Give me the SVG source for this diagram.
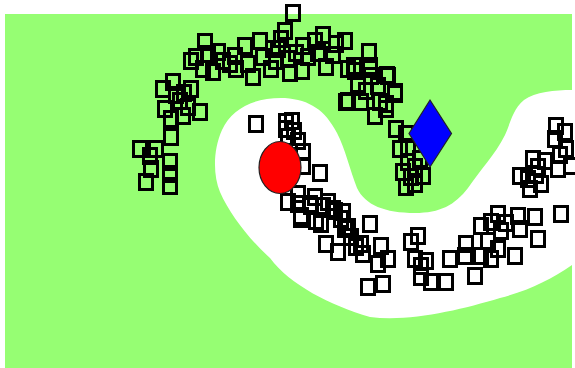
<svg xmlns="http://www.w3.org/2000/svg" width="575" height="368" viewBox="0 0 575 368">
<style>
.sq{fill:none;stroke:#000;stroke-width:3}
</style>
<rect x="0" y="0" width="575" height="368" fill="#ffffff"/>
<rect id="field" x="5" y="14" width="567" height="354" fill="#96fe73"/>
<path id="band" fill="#ffffff" d="M 572,90 C 555,90 535,92 524,100 C 512,110 510,125 505,135 C 495,155 480,170 468,188 C 455,205 440,213 415,213 C 385,213 365,205 357,188 C 350,170 345,148 337,133 C 325,110 310,100 285,98 C 255,97 232,108 222,130 C 213,150 213,175 220,192 C 230,215 250,240 270,258 C 290,285 330,305 370,317 C 410,322 460,310 500,298 C 530,290 550,280 572,265 Z"/>
<g id="squares" transform="translate(1.5,1.5)">
<rect class="sq" x="285" y="4" width="13" height="15"/>
<rect class="sq" x="277" y="22" width="13" height="15"/>
<rect class="sq" x="273" y="30" width="13" height="15"/>
<rect class="sq" x="270" y="40" width="13" height="15"/>
<rect class="sq" x="295" y="37" width="13" height="15"/>
<rect class="sq" x="307" y="32" width="13" height="15"/>
<rect class="sq" x="315" y="26" width="13" height="15"/>
<rect class="sq" x="328" y="35" width="13" height="15"/>
<rect class="sq" x="337" y="32" width="13" height="15"/>
<rect class="sq" x="318" y="58" width="13" height="15"/>
<rect class="sq" x="294" y="62" width="13" height="15"/>
<rect class="sq" x="361" y="43" width="13" height="15"/>
<rect class="sq" x="362" y="57" width="13" height="15"/>
<rect class="sq" x="346" y="57" width="13" height="15"/>
<rect class="sq" x="379" y="66" width="13" height="15"/>
<rect class="sq" x="350" y="75" width="13" height="15"/>
<rect class="sq" x="358" y="82" width="13" height="15"/>
<rect class="sq" x="387" y="85" width="13" height="15"/>
<rect class="sq" x="370" y="77" width="13" height="15"/>
<rect class="sq" x="378" y="95" width="13" height="15"/>
<rect class="sq" x="338" y="93" width="13" height="15"/>
<rect class="sq" x="197" y="33" width="13" height="15"/>
<rect class="sq" x="183" y="52" width="13" height="15"/>
<rect class="sq" x="188" y="48" width="13" height="15"/>
<rect class="sq" x="205" y="63" width="13" height="15"/>
<rect class="sq" x="210" y="43" width="13" height="15"/>
<rect class="sq" x="227" y="47" width="13" height="15"/>
<rect class="sq" x="237" y="37" width="13" height="15"/>
<rect class="sq" x="252" y="32" width="13" height="15"/>
<rect class="sq" x="245" y="68" width="13" height="15"/>
<rect class="sq" x="263" y="60" width="13" height="15"/>
<rect class="sq" x="215" y="52" width="13" height="15"/>
<rect class="sq" x="228" y="60" width="13" height="15"/>
<rect class="sq" x="255" y="48" width="13" height="15"/>
<rect class="sq" x="265" y="40" width="13" height="15"/>
<rect class="sq" x="280" y="50" width="13" height="15"/>
<rect class="sq" x="282" y="64" width="13" height="15"/>
<rect class="sq" x="300" y="48" width="13" height="15"/>
<rect class="sq" x="240" y="55" width="13" height="15"/>
<rect class="sq" x="222" y="55" width="13" height="15"/>
<rect class="sq" x="195" y="60" width="13" height="15"/>
<rect class="sq" x="200" y="45" width="13" height="15"/>
<rect class="sq" x="288" y="44" width="13" height="15"/>
<rect class="sq" x="310" y="44" width="13" height="15"/>
<rect class="sq" x="325" y="46" width="13" height="15"/>
<rect class="sq" x="268" y="52" width="13" height="15"/>
<rect class="sq" x="155" y="80" width="13" height="15"/>
<rect class="sq" x="165" y="73" width="13" height="15"/>
<rect class="sq" x="183" y="80" width="13" height="15"/>
<rect class="sq" x="172" y="92" width="13" height="15"/>
<rect class="sq" x="176" y="84" width="13" height="15"/>
<rect class="sq" x="168" y="86" width="13" height="15"/>
<rect class="sq" x="157" y="100" width="13" height="15"/>
<rect class="sq" x="163" y="110" width="13" height="15"/>
<rect class="sq" x="175" y="107" width="13" height="15"/>
<rect class="sq" x="180" y="98" width="13" height="15"/>
<rect class="sq" x="192" y="103" width="13" height="15"/>
<rect class="sq" x="163" y="128" width="13" height="15"/>
<rect class="sq" x="132" y="140" width="13" height="15"/>
<rect class="sq" x="142" y="147" width="13" height="15"/>
<rect class="sq" x="148" y="140" width="13" height="15"/>
<rect class="sq" x="162" y="153" width="13" height="15"/>
<rect class="sq" x="143" y="160" width="13" height="15"/>
<rect class="sq" x="138" y="173" width="13" height="15"/>
<rect class="sq" x="162" y="177" width="13" height="15"/>
<rect class="sq" x="162" y="165" width="13" height="15"/>
<rect class="sq" x="248" y="115" width="13" height="15"/>
<rect class="sq" x="278" y="113" width="13" height="15"/>
<rect class="sq" x="284" y="112" width="13" height="15"/>
<rect class="sq" x="278" y="120" width="13" height="15"/>
<rect class="sq" x="286" y="122" width="13" height="15"/>
<rect class="sq" x="280" y="128" width="13" height="15"/>
<rect class="sq" x="290" y="132" width="13" height="15"/>
<rect class="sq" x="295" y="143" width="13" height="15"/>
<rect class="sq" x="295" y="157" width="13" height="15"/>
<rect class="sq" x="312" y="164" width="13" height="15"/>
<rect class="sq" x="280" y="193" width="13" height="15"/>
<rect class="sq" x="290" y="185" width="13" height="15"/>
<rect class="sq" x="302" y="195" width="13" height="15"/>
<rect class="sq" x="307" y="188" width="13" height="15"/>
<rect class="sq" x="320" y="193" width="13" height="15"/>
<rect class="sq" x="325" y="200" width="13" height="15"/>
<rect class="sq" x="293" y="210" width="13" height="15"/>
<rect class="sq" x="308" y="212" width="13" height="15"/>
<rect class="sq" x="335" y="203" width="13" height="15"/>
<rect class="sq" x="340" y="218" width="13" height="15"/>
<rect class="sq" x="340" y="60" width="13" height="15"/>
<rect class="sq" x="347" y="62" width="13" height="15"/>
<rect class="sq" x="362" y="60" width="13" height="15"/>
<rect class="sq" x="363" y="67" width="13" height="15"/>
<rect class="sq" x="380" y="67" width="13" height="15"/>
<rect class="sq" x="387" y="83" width="13" height="15"/>
<rect class="sq" x="340" y="92" width="13" height="15"/>
<rect class="sq" x="353" y="93" width="13" height="15"/>
<rect class="sq" x="367" y="107" width="13" height="15"/>
<rect class="sq" x="372" y="93" width="13" height="15"/>
<rect class="sq" x="378" y="100" width="13" height="15"/>
<rect class="sq" x="388" y="120" width="13" height="15"/>
<rect class="sq" x="398" y="125" width="13" height="15"/>
<rect class="sq" x="392" y="140" width="13" height="15"/>
<rect class="sq" x="400" y="138" width="13" height="15"/>
<rect class="sq" x="395" y="163" width="13" height="15"/>
<rect class="sq" x="400" y="153" width="13" height="15"/>
<rect class="sq" x="407" y="158" width="13" height="15"/>
<rect class="sq" x="403" y="168" width="13" height="15"/>
<rect class="sq" x="407" y="175" width="13" height="15"/>
<rect class="sq" x="415" y="167" width="13" height="15"/>
<rect class="sq" x="398" y="178" width="13" height="15"/>
<rect class="sq" x="412" y="150" width="13" height="15"/>
<rect class="sq" x="293" y="207" width="13" height="15"/>
<rect class="sq" x="290" y="195" width="13" height="15"/>
<rect class="sq" x="303" y="197" width="13" height="15"/>
<rect class="sq" x="315" y="197" width="13" height="15"/>
<rect class="sq" x="327" y="202" width="13" height="15"/>
<rect class="sq" x="333" y="210" width="13" height="15"/>
<rect class="sq" x="313" y="215" width="13" height="15"/>
<rect class="sq" x="337" y="220" width="13" height="15"/>
<rect class="sq" x="362" y="215" width="13" height="15"/>
<rect class="sq" x="318" y="235" width="13" height="15"/>
<rect class="sq" x="330" y="243" width="13" height="15"/>
<rect class="sq" x="343" y="228" width="13" height="15"/>
<rect class="sq" x="348" y="238" width="13" height="15"/>
<rect class="sq" x="353" y="235" width="13" height="15"/>
<rect class="sq" x="355" y="245" width="13" height="15"/>
<rect class="sq" x="373" y="237" width="13" height="15"/>
<rect class="sq" x="370" y="255" width="13" height="15"/>
<rect class="sq" x="380" y="250" width="13" height="15"/>
<rect class="sq" x="360" y="278" width="13" height="15"/>
<rect class="sq" x="375" y="275" width="13" height="15"/>
<rect class="sq" x="403" y="233" width="13" height="15"/>
<rect class="sq" x="410" y="227" width="13" height="15"/>
<rect class="sq" x="407" y="250" width="13" height="15"/>
<rect class="sq" x="413" y="257" width="13" height="15"/>
<rect class="sq" x="418" y="252" width="13" height="15"/>
<rect class="sq" x="413" y="268" width="13" height="15"/>
<rect class="sq" x="423" y="273" width="13" height="15"/>
<rect class="sq" x="438" y="273" width="13" height="15"/>
<rect class="sq" x="442" y="250" width="13" height="15"/>
<rect class="sq" x="548" y="117" width="13" height="15"/>
<rect class="sq" x="557" y="123" width="13" height="15"/>
<rect class="sq" x="547" y="130" width="13" height="15"/>
<rect class="sq" x="558" y="140" width="13" height="15"/>
<rect class="sq" x="552" y="146" width="13" height="15"/>
<rect class="sq" x="525" y="150" width="13" height="15"/>
<rect class="sq" x="530" y="158" width="13" height="15"/>
<rect class="sq" x="537" y="152" width="13" height="15"/>
<rect class="sq" x="512" y="167" width="13" height="15"/>
<rect class="sq" x="520" y="170" width="13" height="15"/>
<rect class="sq" x="522" y="180" width="13" height="15"/>
<rect class="sq" x="533" y="175" width="13" height="15"/>
<rect class="sq" x="528" y="166" width="13" height="15"/>
<rect class="sq" x="550" y="160" width="13" height="15"/>
<rect class="sq" x="563" y="157" width="13" height="15"/>
<rect class="sq" x="553" y="205" width="13" height="15"/>
<rect class="sq" x="490" y="205" width="13" height="15"/>
<rect class="sq" x="510" y="207" width="13" height="15"/>
<rect class="sq" x="527" y="208" width="13" height="15"/>
<rect class="sq" x="483" y="213" width="13" height="15"/>
<rect class="sq" x="473" y="217" width="13" height="15"/>
<rect class="sq" x="493" y="222" width="13" height="15"/>
<rect class="sq" x="498" y="214" width="13" height="15"/>
<rect class="sq" x="512" y="220" width="13" height="15"/>
<rect class="sq" x="530" y="230" width="13" height="15"/>
<rect class="sq" x="458" y="235" width="13" height="15"/>
<rect class="sq" x="457" y="247" width="13" height="15"/>
<rect class="sq" x="473" y="247" width="13" height="15"/>
<rect class="sq" x="483" y="250" width="13" height="15"/>
<rect class="sq" x="480" y="232" width="13" height="15"/>
<rect class="sq" x="467" y="267" width="13" height="15"/>
<rect class="sq" x="490" y="240" width="13" height="15"/>
<rect class="sq" x="507" y="247" width="13" height="15"/>
</g>
<ellipse id="red" cx="280" cy="167.5" rx="21" ry="26" fill="#ff0000" stroke="#222" stroke-width="1.2"/>
<polygon id="blue" points="430,100 451.5,133.5 430,167 409,133.5" fill="#0000ff" stroke="#222" stroke-width="1.2"/>
</svg>
